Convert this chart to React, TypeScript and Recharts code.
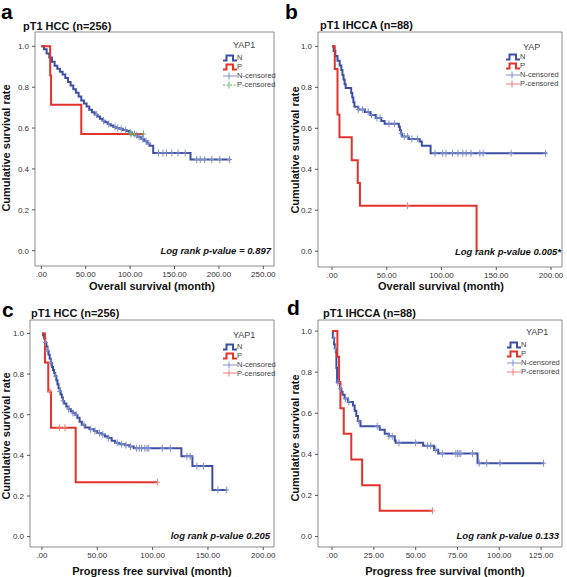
import React from 'react';
import { ComposedChart, Line, Scatter, XAxis, YAxis, ReferenceArea } from 'recharts';

type Pair = [number, number];

// ---------- Panel a: pT1 HCC, overall survival ----------
const aN: Pair[] = [
  [0, 1.0], [3, 0.985], [6, 0.965], [9, 0.945], [12, 0.925], [15, 0.905], [18, 0.89], [21, 0.875],
  [24, 0.862], [27, 0.845], [30, 0.825], [33, 0.808], [36, 0.79], [39, 0.773], [42, 0.755], [45, 0.735],
  [48, 0.72], [51, 0.705], [54, 0.69], [57, 0.677], [60, 0.666], [63, 0.656], [66, 0.646], [69, 0.636],
  [72, 0.628], [75, 0.62], [78, 0.612], [81, 0.605], [84, 0.6], [88, 0.596], [92, 0.59], [96, 0.585],
  [99, 0.578], [102, 0.57], [105, 0.565], [108, 0.557], [112, 0.548], [116, 0.535], [119, 0.525],
  [122, 0.513], [126, 0.478], [168, 0.446], [213, 0.446],
];
const aP: Pair[] = [[0, 1.0], [10, 0.857], [11, 0.714], [45, 0.571], [115, 0.571]];
const aNCensor = [62, 70, 76, 83, 86, 90, 95, 100, 107, 110, 114, 118, 121, 132, 137, 141, 147, 154, 162, 175, 179, 184, 192, 201, 212];
const aPCensor = [101, 105, 115];

// ---------- Panel b: pT1 IHCCA, overall survival ----------
const bN: Pair[] = [
  [0, 1.0], [1.5, 0.977], [3, 0.953], [5, 0.93], [7, 0.907], [8.5, 0.884], [9.5, 0.86], [10.5, 0.838],
  [11.5, 0.815], [12.5, 0.797], [17.5, 0.772], [18.5, 0.75], [19.5, 0.727], [20.5, 0.705], [24, 0.692],
  [30, 0.68], [35, 0.665], [40, 0.65], [45, 0.635], [48, 0.622], [61, 0.607], [62, 0.59], [63, 0.575],
  [64, 0.56], [70, 0.548], [80, 0.535], [82, 0.515], [90, 0.478], [196, 0.478],
];
const bP: Pair[] = [[0, 1.0], [2.5, 0.889], [5, 0.667], [6.8, 0.556], [18, 0.444], [23.5, 0.333], [25.5, 0.222], [132, 0.0]];
const bNCensor = [24, 28, 33, 36, 41, 44, 52, 57, 63, 66, 69, 73, 78, 94, 101, 104, 110, 115, 119.5, 122.5, 127, 135, 138, 163.5, 195];
const bPCensor = [69];

// ---------- Panel c: pT1 HCC, progress free survival ----------
const cN: Pair[] = [
  [0, 1.0], [1, 0.99], [2, 0.975], [3, 0.955], [4, 0.935], [5, 0.915], [6, 0.895], [7, 0.875], [8, 0.855],
  [9, 0.835], [10, 0.82], [11, 0.805], [12, 0.79], [13, 0.77], [14, 0.75], [15, 0.73], [16, 0.715],
  [17, 0.7], [18, 0.685], [19, 0.668], [20, 0.655], [22, 0.64], [24, 0.628], [26, 0.617], [28, 0.608],
  [30, 0.6], [32, 0.585], [34, 0.565], [36, 0.55], [39, 0.537], [43, 0.528], [47, 0.52], [50, 0.51],
  [54, 0.503], [57, 0.493], [60, 0.485], [63, 0.472], [66, 0.462], [70, 0.455], [75, 0.45], [79, 0.443],
  [83, 0.435], [126, 0.395], [136, 0.347], [154, 0.23], [167, 0.23],
];
const cP: Pair[] = [[0, 1.0], [2.7, 0.857], [5.7, 0.714], [8.2, 0.536], [30.5, 0.268], [104.5, 0.268]];
const cNCensor = [3, 5, 8, 12, 16, 19, 24, 28, 31, 38, 44, 48, 52, 55, 60, 68, 72, 76, 80, 85.5, 88, 90, 93, 95, 96.5, 108.7, 116, 131, 134, 140, 146, 159, 167];
const cPCensor = [7.2, 15.7, 20.8, 104.5];

// ---------- Panel d: pT1 IHCCA, progress free survival ----------
const dN: Pair[] = [
  [0, 1.0], [0.5, 0.967], [1.2, 0.935], [1.8, 0.918], [2.3, 0.9], [2.6, 0.82], [3, 0.75], [4.8, 0.72],
  [5.5, 0.705], [6.3, 0.69], [7.5, 0.672], [9.5, 0.655], [12.5, 0.638], [13.5, 0.612], [14.5, 0.587],
  [15.5, 0.562], [17, 0.537], [28.5, 0.52], [31.5, 0.5], [34, 0.488], [37.5, 0.467], [38, 0.456],
  [54.5, 0.442], [61, 0.423], [63.5, 0.404], [87, 0.357], [126.5, 0.357],
];
const dP: Pair[] = [[0, 1.0], [3.2, 0.875], [4.2, 0.75], [5, 0.625], [7, 0.5], [11.5, 0.375], [18, 0.25], [28.5, 0.125], [60, 0.125]];
const dNCensor = [1, 2, 3.5, 5, 8, 10, 16, 27, 34, 36, 40, 50, 57, 59, 62, 66, 74, 75, 76, 77, 84, 88, 92.5, 100.5, 126.5];
const dPCensor = [60];

// ---------- ticks / labels ----------
const yTicks = [0, 0.2, 0.4, 0.6, 0.8, 1.0];
const xTicksA = [0, 50, 100, 150, 200, 250];
const xTicksB = [0, 50, 100, 150, 200];
const xTicksC = [0, 50, 100, 150, 200];
const xTicksD = [0, 25, 50, 75, 100, 125];

const BLUE = '#3c4fa2';
const BLUE_C = '#7f8fcc';
const RED = '#e2322c';
const RED_C = '#ef7d7a';
const GREEN_C = '#5fb85f';
const FONT = '"Liberation Sans", Arial, sans-serif';

const toPts = (arr: Pair[]) => arr.map(([t, s]) => ({ t, s }));
const survAt = (curve: Pair[], t: number) => {
  let s = curve[0][1];
  for (const [ct, cs] of curve) if (ct <= t) s = cs;
  return s;
};
const censorPts = (curve: Pair[], times: number[]) => times.map((t) => ({ t, s: survAt(curve, t) }));

const plusShape = (color: string) => (props: any) => {
  const { cx, cy } = props;
  if (cx == null || cy == null) return <g />;
  return (
    <g>
      <line x1={cx} x2={cx} y1={cy - 3.5} y2={cy + 3.5} stroke={color} strokeWidth={1} />
      <line x1={cx - 2.5} x2={cx + 2.5} y1={cy} y2={cy} stroke={color} strokeWidth={1} />
    </g>
  );
};

const fmtX = (v: number) => (v === 0 ? '.00' : v.toFixed(2));
const fmtY = (v: number) => v.toFixed(1);

type Box = { left: number; top: number; right: number; bottom: number };

function KMPanel(props: {
  cx: number; cy: number; w: number; h: number; box: Box;
  xDomain: [number, number]; yDomain: [number, number]; xTicks: number[];
  n: Pair[]; p: Pair[]; nC: number[]; pC: number[]; pCColor: string;
}) {
  const { cx, cy, w, h, box, xDomain, yDomain, xTicks, n, p, nC, pC, pCColor } = props;
  const yW = 25;
  const xH = 20;
  const margin = {
    left: box.left - cx - yW,
    top: box.top - cy,
    right: cx + w - box.right,
    bottom: cy + h - box.bottom - xH,
  };
  return (
    <div style={{ position: 'absolute', left: cx, top: cy, width: w, height: h }}>
      <ComposedChart width={w} height={h} margin={margin}>
        <XAxis
          type="number" dataKey="t" domain={xDomain} ticks={xTicks} allowDataOverflow
          tickFormatter={fmtX} axisLine={false} tickSize={3} tickMargin={2} height={xH}
          tickLine={{ stroke: '#555' }} tick={{ fontSize: 8, fill: '#333', fontFamily: FONT }}
          interval={0}
        />
        <YAxis
          type="number" dataKey="s" domain={yDomain} ticks={yTicks} allowDataOverflow
          tickFormatter={fmtY} axisLine={false} tickSize={3} tickMargin={3} width={yW}
          tickLine={{ stroke: '#555' }} tick={{ fontSize: 8, fill: '#333', fontFamily: FONT }}
          interval={0}
        />
        <ReferenceArea
          x1={xDomain[0]} x2={xDomain[1]} y1={yDomain[0]} y2={yDomain[1]}
          fill="none" fillOpacity={0} stroke="#8c8c8c" strokeWidth={1} ifOverflow="visible"
        />
        <Line data={toPts(n)} dataKey="s" type="stepAfter" stroke={BLUE} strokeWidth={2} dot={false} isAnimationActive={false} />
        <Line data={toPts(p)} dataKey="s" type="stepAfter" stroke={RED} strokeWidth={2} dot={false} isAnimationActive={false} />
        <Scatter data={censorPts(n, nC)} dataKey="s" shape={plusShape(BLUE_C)} isAnimationActive={false} />
        <Scatter data={censorPts(p, pC)} dataKey="s" shape={plusShape(pCColor)} isAnimationActive={false} />
      </ComposedChart>
    </div>
  );
}

function Txt(props: { x: number; y: number; anchor?: 'start' | 'middle' | 'end'; style?: React.CSSProperties; children: React.ReactNode }) {
  const { x, y, anchor = 'start', style, children } = props;
  const tx = anchor === 'start' ? '0' : anchor === 'middle' ? '-50%' : '-100%';
  return (
    <div style={{ position: 'absolute', left: x, top: y, transform: `translate(${tx}, -50%)`, whiteSpace: 'nowrap', lineHeight: 1, fontFamily: FONT, ...style }}>
      {children}
    </div>
  );
}

function VTxt(props: { x: number; y: number; children: React.ReactNode }) {
  return (
    <div style={{ position: 'absolute', left: props.x, top: props.y, transform: 'translate(-50%, -50%) rotate(-90deg)', whiteSpace: 'nowrap', lineHeight: 1, fontFamily: FONT, fontWeight: 'bold', fontSize: 11, color: '#111' }}>
      {props.children}
    </div>
  );
}

function StepIcon({ color }: { color: string }) {
  return (
    <svg width={14} height={8} style={{ display: 'block' }}>
      <path d="M0,6.5 H3.5 V1.5 H10 V6.5 H14" fill="none" stroke={color} strokeWidth={2} />
    </svg>
  );
}
function CensorIcon({ color, dashed }: { color: string; dashed?: boolean }) {
  return (
    <svg width={14} height={8} style={{ display: 'block' }}>
      <line x1={0} x2={14} y1={4} y2={4} stroke={color} strokeWidth={1} strokeDasharray={dashed ? '2 1.5' : undefined} />
      <line x1={6} x2={6} y1={0.5} y2={7.5} stroke={color} strokeWidth={1} />
    </svg>
  );
}

function LegendBlock(props: { titleX: number; titleY: number; title: string; x: number; y0: number; gap: number; pColor: string; pDashed?: boolean }) {
  const { titleX, titleY, title, x, y0, gap, pColor, pDashed } = props;
  const rows: [React.ReactNode, string][] = [
    [<StepIcon color={BLUE} />, 'N'],
    [<StepIcon color={RED} />, 'P'],
    [<CensorIcon color={BLUE_C} />, 'N-censored'],
    [<CensorIcon color={pColor} dashed={pDashed} />, 'P-censored'],
  ];
  return (
    <>
      <Txt x={titleX} y={titleY} style={{ fontSize: 9, color: '#444' }}>{title}</Txt>
      {rows.map(([icon, label], i) => (
        <div key={i} style={{ position: 'absolute', left: x, top: y0 + i * gap, transform: 'translateY(-50%)', display: 'flex', alignItems: 'center', whiteSpace: 'nowrap', fontFamily: FONT, fontSize: 7.5, color: '#444', lineHeight: 1 }}>
          {icon}
          <span>{label}</span>
        </div>
      ))}
    </>
  );
}

const letterStyle: React.CSSProperties = { fontSize: 21, fontWeight: 'bold', color: '#000' };
const titleStyle: React.CSSProperties = { fontSize: 11, fontWeight: 'bold', color: '#111' };
const axisStyle: React.CSSProperties = { fontSize: 11, fontWeight: 'bold', color: '#111' };
const pStyle: React.CSSProperties = { fontSize: 9.5, fontWeight: 'bold', fontStyle: 'italic', color: '#111' };

export default function App() {
  return (
    <div style={{ position: 'absolute', left: 0, top: 0, width: 567, height: 577, background: '#fff', overflow: 'hidden' }}>
      {/* Panel a */}
      <KMPanel cx={0} cy={0} w={283} h={288} box={{ left: 35, top: 32, right: 274, bottom: 266 }}
        xDomain={[-7.1, 262]} yDomain={[-0.075, 1.07]} xTicks={xTicksA}
        n={aN} p={aP} nC={aNCensor} pC={aPCensor} pCColor={GREEN_C} />
      {/* Panel b */}
      <KMPanel cx={283} cy={0} w={284} h={288} box={{ left: 318, top: 32, right: 562, bottom: 267 }}
        xDomain={[-12.8, 210]} yDomain={[-0.077, 1.07]} xTicks={xTicksB}
        n={bN} p={bP} nC={bNCensor} pC={bPCensor} pCColor={RED_C} />
      {/* Panel c */}
      <KMPanel cx={0} cy={288} w={283} h={289} box={{ left: 30, top: 320, right: 274, bottom: 547 }}
        xDomain={[-10.8, 209.7]} yDomain={[-0.051, 1.066]} xTicks={xTicksC}
        n={cN} p={cP} nC={cNCensor} pC={cPCensor} pCColor={RED_C} />
      {/* Panel d */}
      <KMPanel cx={283} cy={288} w={284} h={289} box={{ left: 318, top: 320, right: 562, bottom: 547 }}
        xDomain={[-8.4, 137.5]} yDomain={[-0.051, 1.054]} xTicks={xTicksD}
        n={dN} p={dP} nC={dNCensor} pC={dPCensor} pCColor={RED_C} />

      {/* letters */}
      <Txt x={1} y={11} style={letterStyle}>a</Txt>
      <Txt x={285} y={11} style={letterStyle}>b</Txt>
      <Txt x={2} y={309} style={letterStyle}>c</Txt>
      <Txt x={287} y={307} style={letterStyle}>d</Txt>

      {/* titles */}
      <Txt x={23} y={26} style={titleStyle}>pT1 HCC (n=256)</Txt>
      <Txt x={320} y={25} style={titleStyle}>pT1 IHCCA (n=88)</Txt>
      <Txt x={31} y={313} style={titleStyle}>pT1 HCC (n=256)</Txt>
      <Txt x={323} y={313} style={titleStyle}>pT1 IHCCA (n=88)</Txt>

      {/* y axis labels */}
      <VTxt x={6} y={148}>Cumulative survival rate</VTxt>
      <VTxt x={295} y={150}>Cumulative survival rate</VTxt>
      <VTxt x={6} y={436}>Cumulative survival rate</VTxt>
      <VTxt x={295} y={438}>Cumulative survival rate</VTxt>

      {/* x axis labels */}
      <Txt x={152} y={286} anchor="middle" style={axisStyle}>Overall survival (month)</Txt>
      <Txt x={441} y={286} anchor="middle" style={axisStyle}>Overall survival (month)</Txt>
      <Txt x={152} y={571} anchor="middle" style={axisStyle}>Progress free survival (month)</Txt>
      <Txt x={445} y={571} anchor="middle" style={axisStyle}>Progress free survival (month)</Txt>

      {/* p-values */}
      <Txt x={271} y={251} anchor="end" style={pStyle}>Log rank p-value = 0.897</Txt>
      <Txt x={561} y={252} anchor="end" style={pStyle}>Log rank p-value 0.005*</Txt>
      <Txt x={270} y={536} anchor="end" style={pStyle}>log rank p-value 0.205</Txt>
      <Txt x={559} y={536} anchor="end" style={pStyle}>Log rank p-value 0.133</Txt>

      {/* legends */}
      <LegendBlock titleX={233} titleY={45} title="YAP1" x={223} y0={58} gap={9} pColor={GREEN_C} pDashed />
      <LegendBlock titleX={523} titleY={47} title="YAP" x={506} y0={57} gap={9} pColor={RED_C} />
      <LegendBlock titleX={233} titleY={335} title="YAP1" x={223} y0={347} gap={8.8} pColor={RED_C} />
      <LegendBlock titleX={526} titleY={332} title="YAP1" x={507} y0={345} gap={9} pColor={RED_C} />
    </div>
  );
}
